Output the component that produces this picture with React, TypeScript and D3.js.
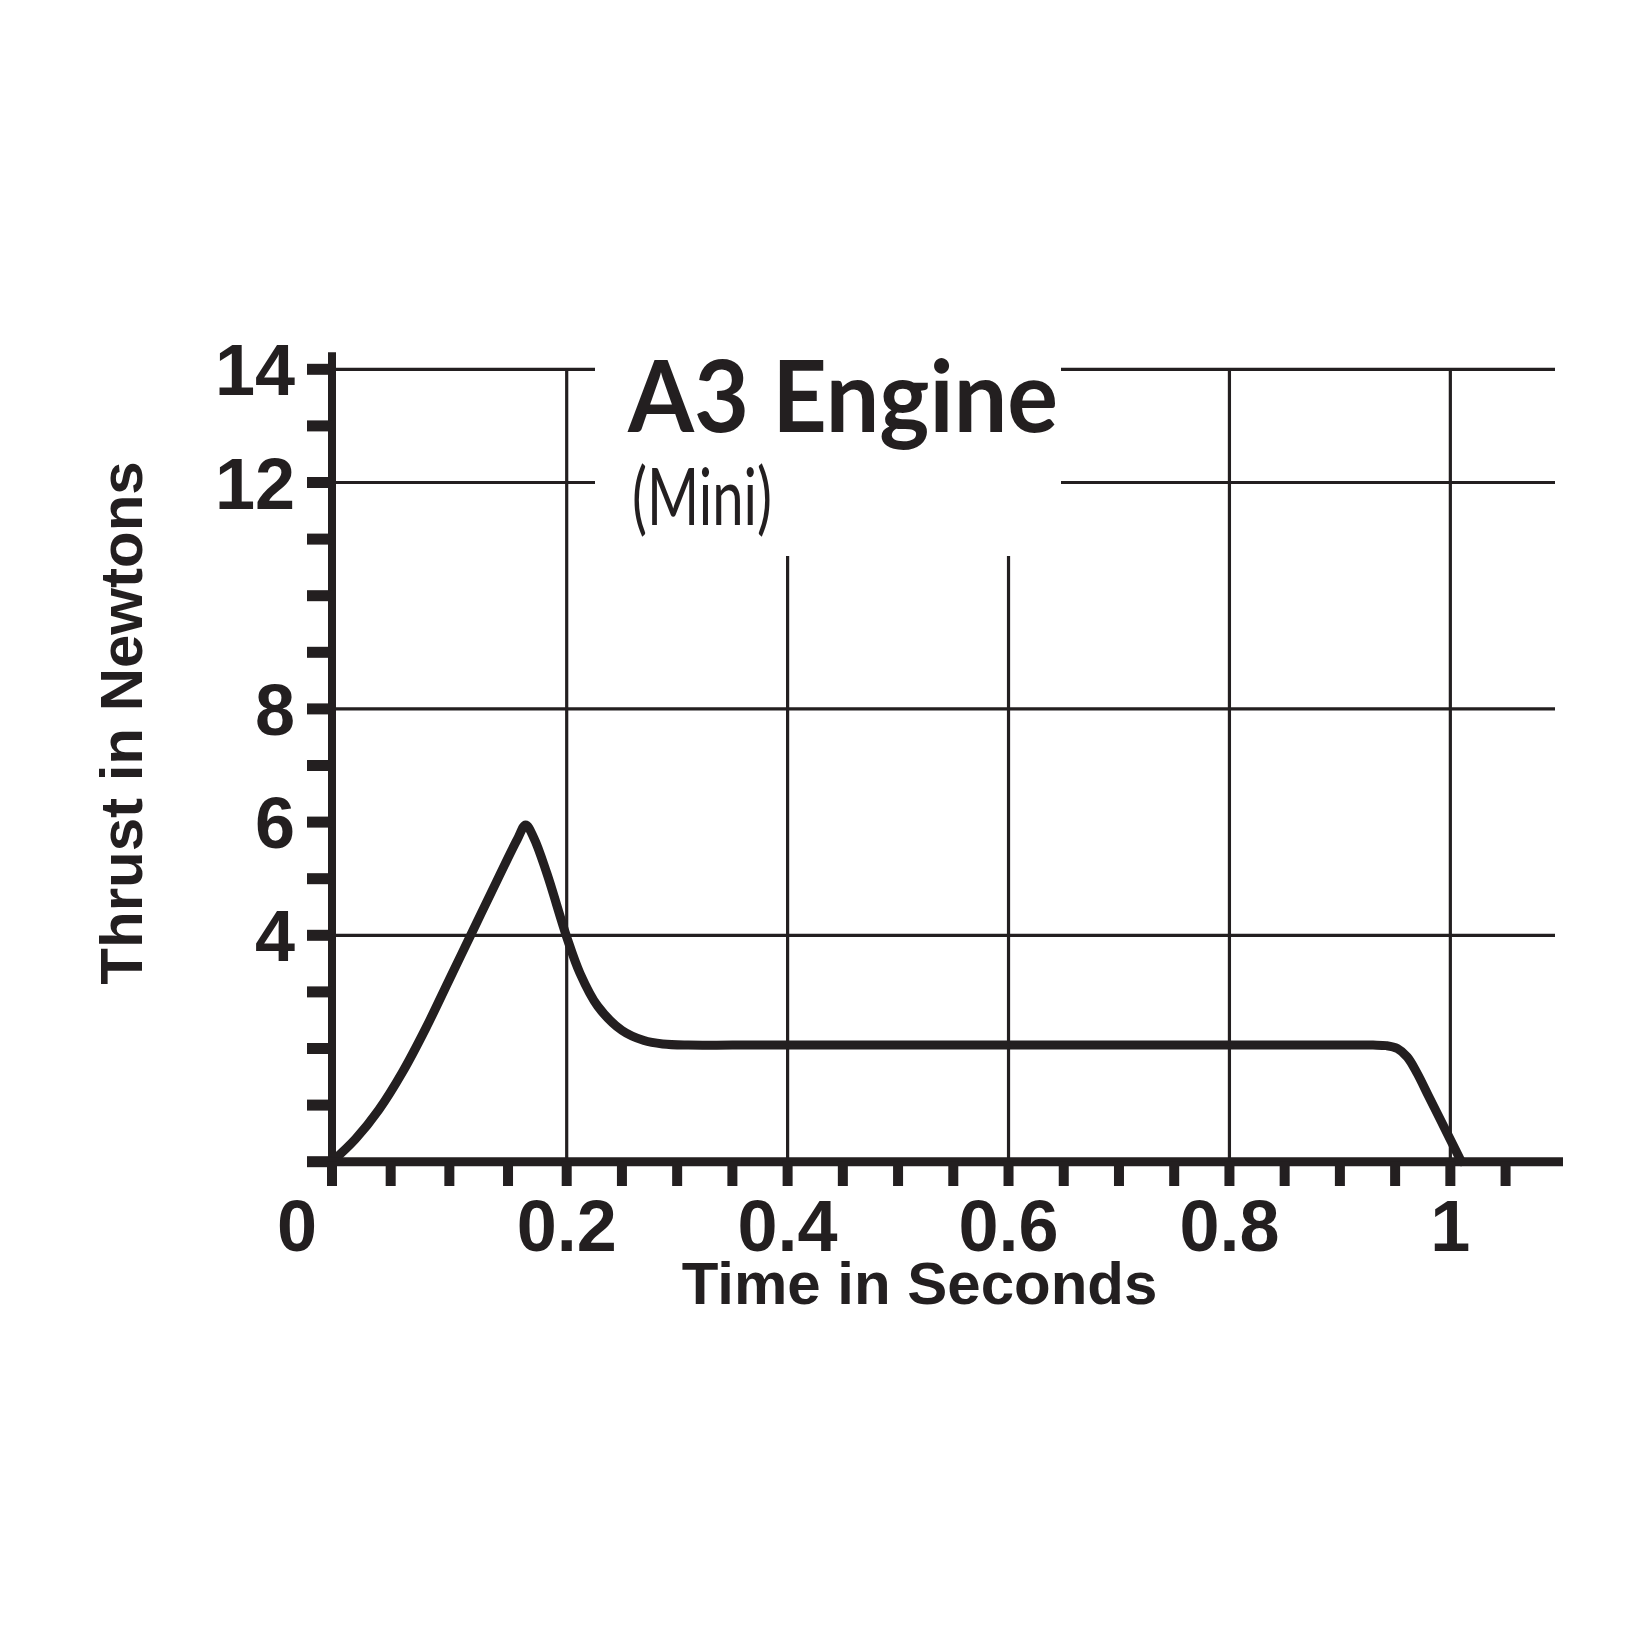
import React from 'react';
import * as d3 from 'd3';

// ---- data ----
const timeS = [0, 0.02, 0.04, 0.06, 0.08, 0.1, 0.12, 0.14, 0.158, 0.165, 0.172, 0.183, 0.2, 0.212, 0.228, 0.25, 0.27, 0.287, 0.31, 0.35, 0.4, 0.45, 0.5, 0.55, 0.6, 0.65, 0.7, 0.75, 0.8, 0.85, 0.9, 0.93, 0.942, 0.952, 0.961, 0.97, 0.98, 0.99, 1.0, 1.01];
const thrustN = [0, 0.4, 0.92, 1.58, 2.36, 3.22, 4.08, 4.94, 5.7, 5.95, 5.72, 5.1, 3.97, 3.33, 2.75, 2.32, 2.14, 2.08, 2.06, 2.06, 2.06, 2.06, 2.06, 2.06, 2.06, 2.06, 2.06, 2.06, 2.06, 2.06, 2.06, 2.06, 2.05, 2.0, 1.85, 1.56, 1.17, 0.78, 0.39, 0];

const xMinorTicks = d3.range(0, 22).map((i) => i * 0.05);
const xLabelValues = [0.2, 0.4, 0.6, 0.8, 1];
const xLabelTexts = ['0.2', '0.4', '0.6', '0.8', '1'];
const yMinorTicks = d3.range(0, 15);
const yLabelValues = [4, 6, 8, 12, 14];
const yLabelTexts = ['4', '6', '8', '12', '14'];
const hGridValues = [4, 8, 12, 14];
const vGridValues = [0.2, 0.4, 0.6, 0.8, 1];
const vGridTops = [14, 10.7, 10.7, 14, 14];

const TITLE = 'A3 Engine';
const SUBTITLE = '(Mini)';
const X_TITLE = 'Time in Seconds';
const Y_TITLE = 'Thrust in Newtons';

const INK = '#231f20';

export default function App() {
  const W = 1652, H = 1652;
  const x = d3.scaleLinear().domain([0, 0.2, 1.1]).range([332, 566.7, 1560.8]);
  const y = d3.scaleLinear().domain([0, 14]).range([1161.7, 369.3]);

  const pts: [number, number][] = timeS.map((t, i) => [t, thrustN[i]]);
  const line = d3
    .line<[number, number]>()
    .x((d) => x(d[0]))
    .y((d) => y(d[1]))
    .curve(d3.curveCatmullRom.alpha(0.5));

  const gapL = 595, gapR = 1061; // title break in the top grid lines
  const gridRight = 1555;
  const axisLeft = 307;
  const tickBottom = 1186;
  const font = '"Liberation Sans", Arial, sans-serif';

  return (
    <svg width={W} height={H} style={{ position: 'absolute', left: 0, top: 0, background: '#fff' }}>
      <rect x={0} y={0} width={W} height={H} fill="#fff" />
      {/* horizontal grid */}
      {hGridValues.map((v) =>
        v >= 12 ? (
          <g key={'h' + v}>
            <line x1={x(0)} x2={gapL} y1={y(v)} y2={y(v)} stroke={INK} strokeWidth={3.2} />
            <line x1={gapR} x2={gridRight} y1={y(v)} y2={y(v)} stroke={INK} strokeWidth={3.2} />
          </g>
        ) : (
          <line key={'h' + v} x1={x(0)} x2={gridRight} y1={y(v)} y2={y(v)} stroke={INK} strokeWidth={3.2} />
        )
      )}
      {/* vertical grid */}
      {vGridValues.map((v, i) => (
        <line key={'v' + v} x1={x(v)} x2={x(v)} y1={y(vGridTops[i])} y2={y(0)} stroke={INK} strokeWidth={3.2} />
      ))}
      {/* curve */}
      <path d={line(pts) || ''} fill="none" stroke={INK} strokeWidth={9} strokeLinejoin="round" strokeLinecap="round" />
      {/* y axis */}
      <line x1={x(0)} x2={x(0)} y1={y(14.3)} y2={tickBottom} stroke={INK} strokeWidth={8} />
      {yMinorTicks.map((v) => (
        <rect key={'yt' + v} x={axisLeft} y={y(v) - 5.5} width={x(0) - axisLeft} height={11} fill={INK} />
      ))}
      {/* x axis */}
      <line x1={axisLeft} x2={1563} y1={y(0)} y2={y(0)} stroke={INK} strokeWidth={9} />
      {xMinorTicks.map((v) => (
        <rect key={'xt' + v} x={x(v) - 5} y={y(0)} width={10} height={tickBottom - y(0)} fill={INK} />
      ))}
      {/* tick labels */}
      {xLabelValues.map((v, i) => (
        <text key={'xl' + v} x={x(v)} y={1251} textAnchor="middle" fontFamily={font} fontWeight={700} fontSize={72} fill={INK}>
          {xLabelTexts[i]}
        </text>
      ))}
      <text x={x(0) - 35} y={1251} textAnchor="middle" fontFamily={font} fontWeight={700} fontSize={72} fill={INK}>0</text>
      {yLabelValues.map((v, i) => (
        <text key={'yl' + v} x={295} y={y(v) + 26} textAnchor="end" fontFamily={font} fontWeight={700} fontSize={72} fill={INK}>
          {yLabelTexts[i]}
        </text>
      ))}
      {/* axis titles */}
      <text x={919.5} y={1304} textAnchor="middle" fontFamily={font} fontWeight={700} fontSize={60} fill={INK}>
        {X_TITLE}
      </text>
      <text transform="translate(142,723) rotate(-90)" textAnchor="middle" fontFamily={font} fontWeight={700} fontSize={60} fill={INK}>
        {Y_TITLE}
      </text>
      {/* chart title */}
      <text x={628} y={432} fontFamily="Lato, 'Open Sans', sans-serif" fontWeight={700} fontSize={100} fill={INK} textLength={430} lengthAdjust="spacingAndGlyphs">
        {TITLE}
      </text>
      <text x={632} y={525} fontFamily="Lato, 'Open Sans', sans-serif" fontWeight={400} fontSize={80} fill={INK} textLength={140} lengthAdjust="spacingAndGlyphs">
        {SUBTITLE}
      </text>
    </svg>
  );
}
